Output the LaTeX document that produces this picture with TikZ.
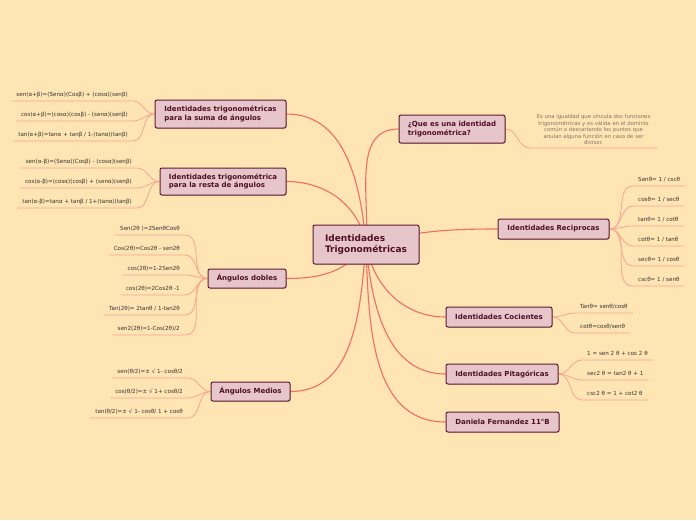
\documentclass[tikz,border=0pt]{standalone}
\usepackage{fontspec}
\setmainfont{DejaVu Sans}
\usetikzlibrary{shadows}
\definecolor{bgc}{RGB}{255,228,180}
\definecolor{boxfill}{RGB}{230,197,203}
\definecolor{boxline}{RGB}{95,25,45}
\definecolor{boxtext}{RGB}{80,15,35}
\definecolor{mainline}{RGB}{240,110,100}
\definecolor{leafline}{RGB}{248,165,145}
\definecolor{leaftext}{RGB}{55,50,50}
\definecolor{desctext}{RGB}{130,115,100}
\pgfdeclarelayer{backdrop}
\pgfdeclarelayer{lines}
\pgfsetlayers{backdrop,lines,main}
\tikzset{
  branch/.style={draw=boxline, line width=1pt, fill=boxfill, rounded corners=2pt,
    text=boxtext, font=\fontsize{7}{8.2}\selectfont\bfseries, align=left, inner sep=0pt,
    drop shadow={opacity=0.25, shadow xshift=0.8pt, shadow yshift=-0.8pt}},
  leafbase/.style={inner xsep=5pt, inner ysep=3pt, text height=4.3pt, text depth=1.2pt,
    font=\fontsize{5.6}{6.5}\selectfont, text=leaftext},
  leafL/.style={leafbase, anchor=south east},
  leafR/.style={leafbase, anchor=south west},
  mainc/.style={draw=mainline, line width=1.1pt},
  leafc/.style={draw=leafline, line width=0.8pt}
}
\begin{document}
\begin{tikzpicture}[x=1pt,y=-1pt]
\begin{pgfonlayer}{backdrop}
\fill[bgc] (0,0) rectangle (696,520);
\end{pgfonlayer}
\useasboundingbox (0,0) rectangle (696,520);

% main nodes
\node[branch, minimum width=106pt, minimum height=39pt, font=\fontsize{9}{11}\selectfont\bfseries] (central) at (366,244.5) {Identidades\\Trigonométricas};
\node[branch, minimum width=131pt, minimum height=28pt] (suma) at (220.5,114) {Identidades trigonométricas\\para la suma de ángulos};
\node[branch, minimum width=126pt, minimum height=27pt] (resta) at (223,181.5) {Identidades trigonométrica\\para la resta de ángulos};
\node[branch, minimum width=78pt, minimum height=19pt] (dobles) at (247,278.5) {Ángulos dobles};
\node[branch, minimum width=79pt, minimum height=19pt] (medios) at (250.5,391.5) {Ángulos Medios};
\node[branch, minimum width=106pt, minimum height=28pt] (question) at (452,129) {¿Que es una identidad\\trigonométrica?};
\node[branch, minimum width=111pt, minimum height=20pt] (reci) at (553.5,229) {Identidades Reciprocas};
\node[branch, minimum width=106pt, minimum height=20pt] (coci) at (499,317) {Identidades Cocientes};
\node[branch, minimum width=112pt, minimum height=20pt] (pita) at (502,374) {Identidades Pitagóricas};
\node[branch, minimum width=113pt, minimum height=20pt] (dani) at (502.5,422) {Daniela Fernandez 11°B};

% description
\node[anchor=south, inner xsep=0pt, inner ysep=3pt, text width=127pt, align=center,
  font=\fontsize{5.3}{6.5}\selectfont, text=desctext] (desc) at (593.5,148)
  {Es una igualdad que vincula dos funciones\\trigonométricas y es válida en el dominio\\común o descartando los puntos que\\anulan alguna función en caso de ser\\divisor.};

% leaves: suma
\node[leafL] (s1) at (133,101) {sen(α+β)=(Senα)(Cosβ) + (cosα)(senβ)};
\node[leafL] (s2) at (133,121) {cos(α+β)=(cosα)(cosβ) - (senα)(senβ)};
\node[leafL] (s3) at (133,141) {tan(α+β)=tanα + tanβ / 1-(tanα)(tanβ)};
% leaves: resta
\node[leafL] (r1) at (137,168) {sen(α-β)=(Senα)(Cosβ) - (cosα)(senβ)};
\node[leafL] (r2) at (137,188) {cos(α-β)=(cosα)(cosβ) + (senα)(senβ)};
\node[leafL] (r3) at (137,208) {tan(α-β)=tanα + tanβ / 1+(tanα)(tanβ)};
% leaves: dobles
\node[leafL] (d1) at (185,235) {Sen(2θ )=2SenθCosθ};
\node[leafL] (d2) at (185,255) {Cos(2θ)=Cos2θ - sen2θ};
\node[leafL] (d3) at (185,275) {cos(2θ)=1-2Sen2θ};
\node[leafL] (d4) at (185,295) {cos(2θ)=2Cos2θ -1};
\node[leafL] (d5) at (185,315) {Tan(2θ)= 2tanθ / 1-tan2θ};
\node[leafL] (d6) at (185,335) {sen2(2θ)=1-Cos(2θ)/2};
% leaves: medios
\node[leafL] (m1) at (188,378) {sen(θ/2)=± √ 1- cosθ/2};
\node[leafL] (m2) at (188,398) {cos(θ/2)=± √ 1+ cosθ/2};
\node[leafL] (m3) at (188,418) {tan(θ/2)=± √ 1- cosθ/ 1 + cosθ};
% leaves: reciprocas
\node[leafR] (e1) at (633,186) {Senθ= 1 / cscθ};
\node[leafR] (e2) at (633,206) {cosθ= 1 / secθ};
\node[leafR] (e3) at (633,226) {tanθ= 1 / cotθ};
\node[leafR] (e4) at (633,246) {cotθ= 1 / tanθ};
\node[leafR] (e5) at (633,266) {secθ= 1 / cosθ};
\node[leafR] (e6) at (633,286) {cscθ= 1 / senθ};
% leaves: cocientes
\node[leafR] (c1) at (575,313) {Tanθ= senθ/cosθ};
\node[leafR] (c2) at (575,333) {cotθ=cosθ/senθ};
% leaves: pitagoricas
\node[leafR] (p1) at (582,360) {1 = sen 2 θ + cos 2 θ};
\node[leafR] (p2) at (582,380) {sec2 θ = tan2 θ + 1};
\node[leafR] (p3) at (582,400) {csc2 θ = 1 + cot2 θ};

\begin{pgfonlayer}{lines}
% main connectors
\draw[mainc] (central.center) to[out=95,in=0] (suma.east);
\draw[mainc] (central.center) to[out=100,in=0] (resta.east);
\draw[mainc] (central.center) to[out=235,in=0] (dobles.east);
\draw[mainc] (central.center) to[out=265,in=0] (medios.east);
\draw[mainc] (central.center) to[out=85,in=180] (question.west);
\draw[mainc] (central.center) to[out=15,in=180] (reci.west);
\draw[mainc] (central.center) to[out=280,in=180] (coci.west);
\draw[mainc] (central.center) to[out=275,in=180] (pita.west);
\draw[mainc] (central.center) to[out=272,in=180] (dani.west);
% leaf connectors
\foreach \n in {s1,s2,s3} \draw[leafc] (suma.west) to[out=180,in=0] (\n.south east) -- (\n.south west);
\foreach \n in {r1,r2,r3} \draw[leafc] (resta.west) to[out=180,in=0] (\n.south east) -- (\n.south west);
\foreach \n in {d1,d2,d3,d4,d5,d6} \draw[leafc] (dobles.west) to[out=180,in=0] (\n.south east) -- (\n.south west);
\foreach \n in {m1,m2,m3} \draw[leafc] (medios.west) to[out=180,in=0] (\n.south east) -- (\n.south west);
\foreach \n in {e1,e2,e3,e4,e5,e6} \draw[leafc] (reci.east) to[out=0,in=180] (\n.south west) -- (\n.south east);
\foreach \n in {c1,c2} \draw[leafc] (coci.east) to[out=0,in=180] (\n.south west) -- (\n.south east);
\foreach \n in {p1,p2,p3} \draw[leafc] (pita.east) to[out=0,in=180] (\n.south west) -- (\n.south east);
\draw[leafc] (question.east) to[out=0,in=180] (desc.south west) -- (desc.south east);
\end{pgfonlayer}
\end{tikzpicture}
\end{document}
